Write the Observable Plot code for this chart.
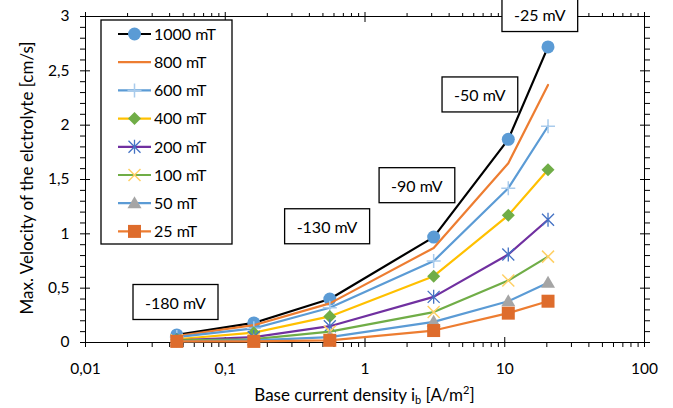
<!DOCTYPE html>
<html>
<head>
<meta charset="utf-8">
<script src="https://cdn.jsdelivr.net/npm/d3@7"></script>
<script src="https://cdn.jsdelivr.net/npm/@observablehq/plot@0.6"></script>
<style>
  html, body { margin: 0; padding: 0; background: #fff; }
  #chart { width: 673px; height: 408px; }
</style>
</head>
<body>
<div id="chart"></div>
<script>
// ---------- data ----------
const xValues = [0.045, 0.16, 0.56, 3.1, 10.6, 20.4];
const seriesNames = ["1000 mT", "800 mT", "600 mT", "400 mT", "200 mT", "100 mT", "50 mT", "25 mT"];
const v1000 = [0.07, 0.18, 0.40, 0.97, 1.87, 2.72];
const v800  = [0.06, 0.16, 0.36, 0.87, 1.65, 2.37];
const v600  = [0.05, 0.13, 0.32, 0.75, 1.42, 1.99];
const v400  = [0.03, 0.09, 0.24, 0.61, 1.17, 1.59];
const v200  = [0.02, 0.05, 0.15, 0.42, 0.81, 1.13];
const v100  = [0.02, 0.03, 0.10, 0.28, 0.57, 0.79];
const v50   = [0.01, 0.02, 0.05, 0.19, 0.38, 0.55];
const v25   = [0.01, 0.01, 0.02, 0.11, 0.27, 0.38];
const seriesValues = [v1000, v800, v600, v400, v200, v100, v50, v25];

const xTicks = [0.01, 0.1, 1, 10, 100];
const xTickLabels = ["0,01", "0,1", "1", "10", "100"];
const yTicks = [0, 0.5, 1, 1.5, 2, 2.5, 3];
const yTickLabels = ["0", "0,5", "1", "1,5", "2", "2,5", "3"];

const annLabels = ["-180 mV", "-130 mV", "-90 mV", "-50 mV", "-25 mV"];
const annX = [0.044, 0.535, 2.35, 6.63, 17.8];
const annY = [0.36, 1.057, 1.435, 2.27, 3.01];

// ---------- styles ----------
function sym(drawFn) { return { draw(ctx) { drawFn(ctx); } }; }
const symPlus = sym(c => { c.moveTo(-7, 0); c.lineTo(7, 0); c.moveTo(0, -7); c.lineTo(0, 7); });
const symDiamond = sym(c => { c.moveTo(0, -6.5); c.lineTo(6.5, 0); c.lineTo(0, 6.5); c.lineTo(-6.5, 0); c.closePath(); });
const symAst = sym(c => { c.moveTo(0, -7); c.lineTo(0, 7); c.moveTo(-6, -6); c.lineTo(6, 6); c.moveTo(-6, 6); c.lineTo(6, -6); });
const symTimes = sym(c => { c.moveTo(-6, -6); c.lineTo(6, 6); c.moveTo(-6, 6); c.lineTo(6, -6); });
const symTri = sym(c => { c.moveTo(0, -7); c.lineTo(7, 5); c.lineTo(-7, 5); c.closePath(); });
const symSquare = sym(c => { c.rect(-6.5, -6.5, 13, 13); });
const symCircle = sym(c => { c.moveTo(6.5, 0); c.arc(0, 0, 6.5, 0, 2 * Math.PI); });

const styles = [
  { line: "#000000", symbol: symCircle, fill: "#5B9BD5", stroke: "none" },
  { line: "#ED7D31", symbol: null },
  { line: "#5B9BD5", symbol: symPlus, fill: "none", stroke: "#A9CBEC", sw: 1.5 },
  { line: "#FFC000", symbol: symDiamond, fill: "#70AD47", stroke: "none" },
  { line: "#7030A0", symbol: symAst, fill: "none", stroke: "#4472C4", sw: 1.3 },
  { line: "#70AD47", symbol: symTimes, fill: "none", stroke: "#FFD065", sw: 1.5 },
  { line: "#5B9BD5", symbol: symTri, fill: "#A5A5A5", stroke: "none" },
  { line: "#ED7D31", symbol: symSquare, fill: "#DE6C2C", stroke: "none" }
];

const FONT = "Lato, 'Open Sans', sans-serif";

// ---------- marks ----------
const xMinor = [];
[0.01, 0.1, 1, 10].forEach(d => { for (let k = 2; k <= 9; k++) xMinor.push(+(d * k).toPrecision(3)); });
const yMinor = [];
for (let i = 1; i < 30; i++) if (i % 5 !== 0) yMinor.push(i / 10);

const marks = [];
seriesNames.forEach((name, i) => {
  const rows = xValues.map((x, j) => ({ x, y: seriesValues[i][j], series: name }));
  const st = styles[i];
  marks.push(Plot.line(rows, { x: "x", y: "y", stroke: st.line, strokeWidth: 2.2 }));
  if (st.symbol) {
    marks.push(Plot.dot(rows, { x: "x", y: "y", symbol: st.symbol, r: 5, fill: st.fill, stroke: st.stroke, strokeWidth: st.sw || 1 }));
  }
});

const annRows = annLabels.map((t, i) => ({ t, x: annX[i], y: annY[i] }));
const blank = () => "";

const chart = Plot.plot({
  width: 673,
  height: 408,
  marginLeft: 85,
  marginRight: 29,
  marginTop: 16,
  marginBottom: 66,
  x: { type: "log", domain: [0.01, 100] },
  y: { domain: [0, 3] },
  style: { fontFamily: FONT, fontSize: "15.5px", color: "#000", background: "#fff", overflow: "visible" },
  marks: [
    Plot.frame({ stroke: "#000", strokeWidth: 1 }),
    // bottom axis
    Plot.axisX(xMinor, { anchor: "bottom", tickSize: 5, tickFormat: blank, label: null }),
    Plot.axisX(xTicks, { anchor: "bottom", tickSize: 10, dy: -5, tickFormat: blank, label: null }),
    Plot.axisX(xTicks, { anchor: "bottom", tickSize: 0, tickPadding: 20, tickFormat: d => xTickLabels[xTicks.indexOf(d)], label: null, fontSize: 15.5 }),
    // top
    Plot.axisX(xMinor, { anchor: "top", tickSize: 4, tickFormat: blank, label: null }),
    Plot.axisX(xTicks, { anchor: "top", tickSize: 10, dy: 5, tickFormat: blank, label: null }),
    // left axis
    Plot.axisY(yMinor, { anchor: "left", tickSize: 5, tickFormat: blank, label: null }),
    Plot.axisY(yTicks, { anchor: "left", tickSize: 10, dx: 5, tickFormat: blank, label: null }),
    Plot.axisY(yTicks, { anchor: "left", tickSize: 0, tickPadding: 16, tickFormat: d => yTickLabels[yTicks.indexOf(d)], label: null, fontSize: 15.5 }),
    // right
    Plot.axisY(yMinor, { anchor: "right", tickSize: 5, tickFormat: blank, label: null }),
    Plot.axisY(yTicks, { anchor: "right", tickSize: 10, dx: -5, tickFormat: blank, label: null }),
    ...marks,
    Plot.text(annRows, { x: "x", y: "y", text: "t", fontSize: 16, fill: "#000" })
  ]
});

document.getElementById("chart").appendChild(chart);

const svg = d3.select(chart);

// annotation boxes
svg.selectAll("g[aria-label='text'] text").each(function () {
  const bb = this.getBBox();
  const w = bb.width + 24, h = 35;
  const cx = bb.x + bb.width / 2, cy = bb.y + bb.height / 2;
  const t = this.getAttribute("transform");
  const r = document.createElementNS("http://www.w3.org/2000/svg", "rect");
  r.setAttribute("x", cx - w / 2);
  r.setAttribute("y", cy - h / 2);
  r.setAttribute("width", w);
  r.setAttribute("height", h);
  r.setAttribute("fill", "#fff");
  r.setAttribute("stroke", "#000");
  r.setAttribute("stroke-width", "1.3");
  if (t) r.setAttribute("transform", t);
  this.parentNode.insertBefore(r, this);
});

// axis titles
const xt = svg.append("text")
  .attr("x", (85 + 644) / 2).attr("y", 401)
  .attr("text-anchor", "middle")
  .attr("font-family", FONT).attr("font-size", 17).attr("fill", "#000");
xt.append("tspan").text("Base current density i");
xt.append("tspan").attr("font-size", 11).attr("dy", 3).text("b");
xt.append("tspan").attr("dy", -3).text(" [A/m");
xt.append("tspan").attr("font-size", 11).attr("dy", -7).text("2");
xt.append("tspan").attr("dy", 7).text("]");

svg.append("text")
  .attr("transform", "translate(33,178) rotate(-90)")
  .attr("text-anchor", "middle")
  .attr("font-family", FONT).attr("font-size", 17).attr("fill", "#000")
  .text("Max. Velocity of the elctrolyte [cm/s]");

// legend
const lg = svg.append("g").attr("text-anchor", "start");
lg.append("rect").attr("x", 101).attr("y", 20).attr("width", 131).attr("height", 224)
  .attr("fill", "#fff").attr("stroke", "#000").attr("stroke-width", 1.3);
seriesNames.forEach((name, i) => {
  const y = 34 + i * 28.2;
  const st = styles[i];
  lg.append("line").attr("x1", 118).attr("x2", 151).attr("y1", y).attr("y2", y)
    .attr("stroke", st.line).attr("stroke-width", 2.2);
  if (st.symbol) {
    lg.append("path").attr("d", d3.symbol(st.symbol)()).attr("transform", `translate(134.5,${y})`)
      .attr("fill", st.fill).attr("stroke", st.stroke).attr("stroke-width", st.sw || 1);
  }
  lg.append("text").attr("x", 154).attr("y", y).attr("dy", "0.36em").attr("text-anchor", "start")
    .attr("font-family", FONT).attr("font-size", 16).attr("fill", "#000").text(name);
});
</script>
</body>
</html>
